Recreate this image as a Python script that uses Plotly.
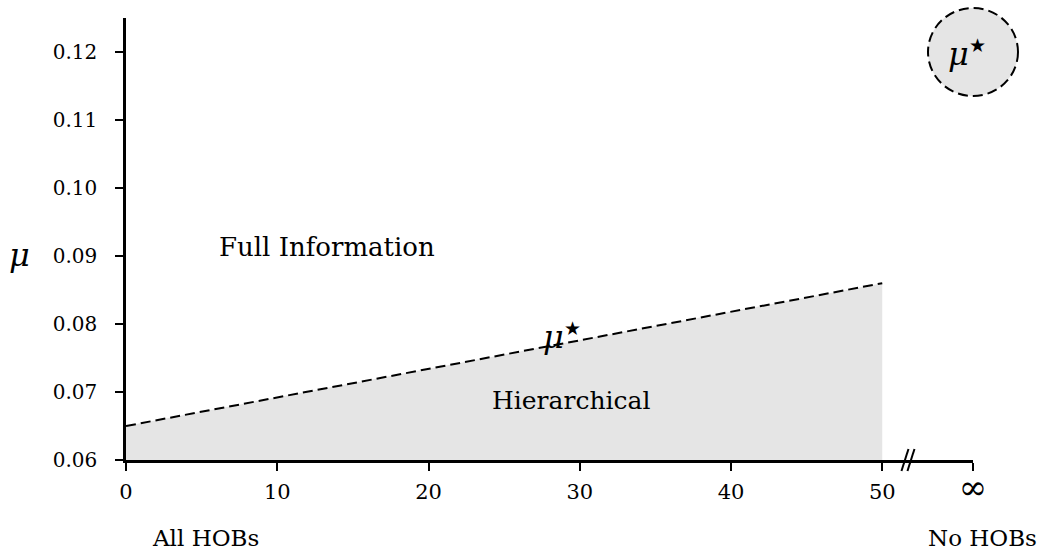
import plotly.graph_objects as go

# data
hob_x = [0, 50]
mu_star = [0.065, 0.086]
x_ticks = [0, 10, 20, 30, 40, 50, 56]
x_ticktext = ["0", "10", "20", "30", "40", "50", "<span style='font-size:34px'>∞</span>"]
y_ticks = [0.06, 0.07, 0.08, 0.09, 0.10, 0.11, 0.12]
y_ticktext = ["0.06", "0.07", "0.08", "0.09", "0.10", "0.11", "0.12"]
inf_x = 56
break_x = 51.7

FONT = "DejaVu Serif"
FILL = "#e5e5e5"
Y0, Y1 = 0.06, 0.125
MU_STAR = "<i>μ</i><sup><span style='font-size:19px'>★</span></sup>"

fig = go.Figure()
fig.add_trace(go.Scatter(
    x=hob_x, y=mu_star, mode="lines",
    line=dict(color="black", width=2, dash="10px,5px"),
    fill="tozeroy", fillcolor=FILL, hoverinfo="skip", showlegend=False,
))

fig.update_layout(
    width=1043, height=550,
    margin=dict(l=126, r=70, t=18, b=90),
    plot_bgcolor="white", paper_bgcolor="white",
    font=dict(family=FONT, size=21, color="black"),
    showlegend=False,
    xaxis=dict(range=[0, inf_x], tickvals=x_ticks, ticktext=x_ticktext,
               showgrid=False, zeroline=False, showline=True, linecolor="black",
               linewidth=2.5, ticks="outside", ticklen=8, tickwidth=1.5,
               tickcolor="black", tickfont=dict(size=21, family=FONT),
               ticklabelstandoff=3),
    yaxis=dict(range=[Y0, Y1], tickvals=y_ticks, ticktext=y_ticktext,
               showgrid=False, zeroline=False, showline=True, linecolor="black",
               linewidth=2.5, ticks="outside", ticklen=8, tickwidth=1.5,
               tickcolor="black", tickfont=dict(size=20, family=FONT),
               ticklabelstandoff=14),
)

# circle legend at top right (paper ref so it is not clipped)
cy = (0.12 - Y0) / (Y1 - Y0)
fig.add_shape(type="circle", xref="paper", yref="paper", xsizemode="pixel", ysizemode="pixel",
              xanchor=1.0, yanchor=cy, x0=-45, x1=45, y0=-44, y1=44,
              fillcolor=FILL, line=dict(color="black", width=2, dash="10px,5px"),
              layer="above")
fig.add_annotation(x=1.0, y=cy, xref="paper", yref="paper", showarrow=False,
                   xshift=15, yshift=20,
                   text=MU_STAR, font=dict(size=32, family=FONT))

# axis break marks (paper ref so they are not clipped)
bx = break_x / inf_x
for dx in (-3, 3):
    fig.add_shape(type="line", xref="paper", yref="paper", xsizemode="pixel", ysizemode="pixel",
                  xanchor=bx, yanchor=0, x0=dx - 3.5, x1=dx + 3.5, y0=-11, y1=11,
                  line=dict(color="black", width=2), layer="above")

# texts
fig.add_annotation(x=0.0, y=0.0897, xref="x", yref="y", xshift=-107, yshift=3, showarrow=False,
                   text="<i>μ</i>", font=dict(size=32, family=FONT))
fig.add_annotation(x=13.3, y=0.0913, xref="x", yref="y", showarrow=False,
                   text="Full Information", font=dict(size=26, family=FONT))
fig.add_annotation(x=29.4, y=0.0688, xref="x", yref="y", showarrow=False,
                   text="Hierarchical", font=dict(size=25, family=FONT))
fig.add_annotation(x=28.8, y=0.0782, xref="x", yref="y", showarrow=False,
                   text=MU_STAR, font=dict(size=32, family=FONT))
fig.add_annotation(x=0, y=Y0, xref="x", yref="y", xshift=79, yshift=-78, showarrow=False,
                   text="All HOBs", font=dict(size=23, family=FONT))
fig.add_annotation(x=inf_x, y=Y0, xref="x", yref="y", xshift=9, yshift=-78, showarrow=False,
                   text="No HOBs", font=dict(size=23, family=FONT))

fig.write_html("out.html", config={"displayModeBar": False},
               post_script="document.body.style.margin='0px';document.body.style.overflow='hidden';")
